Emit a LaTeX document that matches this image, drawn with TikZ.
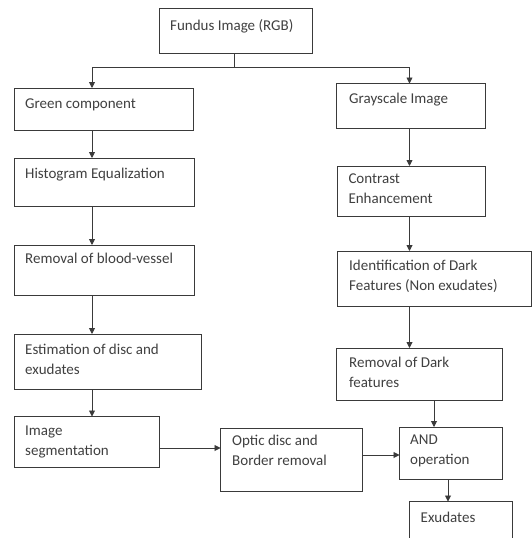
\documentclass[tikz,border=0pt]{standalone}
\usepackage{fontspec}
\setmainfont{Carlito}
\usetikzlibrary{arrows.meta}
\definecolor{ln}{HTML}{3A3A3A}
\definecolor{tx}{HTML}{404040}
\tikzset{
  box/.style={draw=ln, line width=0.9pt, anchor=north west, inner sep=0pt, outer sep=0pt},
  txt/.style={anchor=north west, inner sep=0pt, align=left, text=tx,
    font=\fontsize{15}{20}\selectfont, execute at begin node={\rule{0pt}{12pt}}},
  arr/.style={draw=ln, line width=0.9pt, -{Triangle[width=6pt,length=6pt]}},
  con/.style={draw=ln, line width=0.9pt},
}
\newcommand{\bx}[5]{\node[box, minimum width=#4pt-#2pt, minimum height=#5pt-#3pt] (#1) at (#2,#3) {};}
\begin{document}
\begin{tikzpicture}[x=1pt,y=-1pt]
\useasboundingbox[fill=white] (0,0) rectangle (532,538);

% boxes
\bx{fun}{159.5}{8.5}{312.5}{53.5}
\bx{grn}{14}{88}{193.5}{130}
\bx{gry}{336.5}{83.5}{485}{128}
\bx{his}{14}{158}{194}{206}
\bx{rbv}{14}{245}{194}{295}
\bx{con}{337}{166}{485}{216}
\bx{idf}{337}{251}{531}{306.5}
\bx{est}{14}{334}{201}{389}
\bx{seg}{14}{416.5}{159.5}{467}
\bx{opt}{220.5}{428.5}{362}{491.5}
\bx{rdk}{336.5}{348}{502.5}{400}
\bx{and}{399.5}{427}{502.5}{479}
\bx{exu}{409}{501.5}{512.5}{542}

% texts
\node[txt] (tfun) at (170,17.8) {Fundus Image (RGB)};
\node[txt] (tgrn) at (25,96) {Green component};
\node[txt] (tgry) at (349,91) {Grayscale Image};
\node[txt] (this) at (25,166) {Histogram Equalization};
\node[txt] (trbv) at (25,251.3) {Removal of blood-vessel};
\node[txt] (tcon) at (348.3,174) {Contrast\\Enhancement};
\node[txt] (tidf) at (349,259.7) {Identification of Dark\\Features (Non exudates)};
\node[txt] (test) at (25,343.5) {Estimation of disc and\\exudates};
\node[txt] (tseg) at (25,426) {Image\\segmentation};
\node[txt] (topt) at (232,435) {Optic disc and\\Border removal};
\node[txt] (trdk) at (349,357) {Removal of Dark\\features};
\node[txt] (tand) at (410,435) {AND\\operation};
\node[txt] (texu) at (420.5,510) {Exudates};

% guide coordinates
\coordinate (j) at (234,67.5);
\coordinate (cl) at (92,0);
\coordinate (cr) at (409.5,0);
\coordinate (ca) at (434,0);
\coordinate (ce) at (448,0);
\coordinate (r1) at (0,448);
\coordinate (r2) at (0,455);

% connectors
\draw[con] (fun.south -| j) -- (j);
\draw[arr] (j) -| (grn.north -| cl);
\draw[arr] (j) -| (gry.north -| cr);
\draw[arr] (grn.south -| cl) -- (his.north -| cl);
\draw[arr] (his.south -| cl) -- (rbv.north -| cl);
\draw[arr] (rbv.south -| cl) -- (est.north -| cl);
\draw[arr] (est.south -| cl) -- (seg.north -| cl);
\draw[arr] (gry.south -| cr) -- (con.north -| cr);
\draw[arr] (con.south -| cr) -- (idf.north -| cr);
\draw[arr] (idf.south -| cr) -- (rdk.north -| cr);
\draw[arr] (rdk.south -| ca) -- (and.north -| ca);
\draw[arr] (and.south -| ce) -- (exu.north -| ce);
\draw[arr] (seg.east |- r1) -- (opt.west |- r1);
\draw[arr] (opt.east |- r2) -- (and.west |- r2);
\end{tikzpicture}
\end{document}
